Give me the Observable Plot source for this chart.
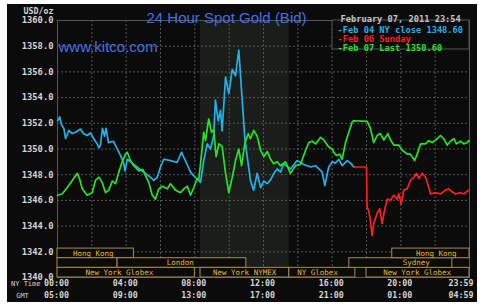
<!DOCTYPE html>
<html>
<head>
<meta charset="utf-8">
<script src="https://cdn.jsdelivr.net/npm/d3@7"></script>
<script src="https://cdn.jsdelivr.net/npm/@observablehq/plot@0.6"></script>
<style>
  html, body { margin: 0; padding: 0; background: #ffffff; }
  #chart { position: absolute; left: 7px; top: 4px; }
  #chart svg { display: block; }
</style>
</head>
<body>
<div id="chart"></div>
<script>
// ---- Data (hours since 00:00 NY time, USD/oz) ----
const blueHours = [0.00,0.13,0.23,0.37,0.47,0.66,0.86,1.05,1.34,1.51,1.73,1.92,2.11,2.31,2.41,2.50,2.62,2.74,2.83,2.97,3.26,3.48,3.67,3.86,3.93,4.06,4.35,4.64,4.83,5.03,5.32,5.61,5.81,6.00,6.19,6.58,6.97,7.22,7.50,7.75,7.94,8.23,8.33,8.52,8.72,8.91,9.10,9.20,9.36,9.50,9.59,9.79,9.98,10.18,10.37,10.56,10.76,10.91,11.05,11.24,11.43,11.63,11.83,12.02,12.22,12.41,12.60,12.80,12.99,13.18,13.57,13.96,14.35,14.74,15.03,15.42,15.57,15.80,16.00,16.19,16.39,16.58,16.88,17.07,17.26];
const blueValues = [1352.2,1352.5,1351.9,1351.6,1350.8,1351.45,1351.2,1351.3,1351.55,1351.2,1351.05,1351.25,1350.8,1350.4,1350.1,1350.3,1351.6,1351.0,1351.6,1350.5,1350.6,1350.0,1349.5,1348.85,1348.3,1349.2,1348.9,1348.6,1348.4,1348.2,1347.9,1347.55,1347.8,1348.6,1349.2,1349.1,1348.95,1349.75,1348.95,1348.2,1347.9,1347.55,1347.4,1349.1,1350.4,1350.0,1351.05,1353.8,1352.2,1353.0,1351.4,1355.6,1354.3,1356.2,1355.7,1357.7,1353.8,1350.9,1349.4,1347.55,1346.8,1348.1,1347.0,1347.5,1347.3,1347.6,1348.1,1348.45,1348.2,1348.85,1348.45,1349.1,1348.8,1348.6,1348.7,1348.2,1347.15,1348.6,1349.0,1348.9,1349.2,1348.7,1349.1,1348.9,1348.6];

const redHours = [17.26,18.00,18.03,18.13,18.23,18.33,18.42,18.62,18.77,18.91,19.05,19.21,19.40,19.59,19.79,19.88,20.02,20.17,20.37,20.56,20.76,20.91,21.05,21.24,21.44,21.63,21.73,22.02,22.31,22.60,22.79,22.99,23.18,23.48,23.67,23.96];
const redValues = [1348.6,1348.6,1345.5,1345.2,1344.4,1343.25,1344.2,1345.0,1345.35,1344.2,1345.2,1346.1,1346.0,1346.4,1346.1,1346.5,1345.7,1346.8,1346.9,1347.55,1347.8,1348.1,1347.7,1348.1,1347.8,1347.0,1346.5,1346.6,1346.5,1346.8,1346.9,1346.65,1346.5,1346.6,1346.5,1346.8];

const greenHours = [0.00,0.27,0.57,0.86,1.15,1.28,1.44,1.73,2.02,2.21,2.41,2.60,2.80,2.99,3.19,3.38,3.57,3.77,3.96,4.06,4.25,4.44,4.74,4.97,5.13,5.32,5.52,5.71,5.90,6.10,6.39,6.58,6.87,7.17,7.36,7.56,7.75,7.94,8.14,8.23,8.33,8.52,8.62,8.81,8.97,9.10,9.24,9.40,9.59,9.79,9.98,10.18,10.37,10.56,10.72,10.91,11.11,11.24,11.43,11.63,11.83,12.02,12.22,12.41,12.60,12.80,12.99,13.28,13.57,13.86,14.16,14.45,14.64,14.84,15.03,15.32,15.51,15.80,16.00,16.10,16.25,16.43,16.58,16.78,16.97,17.17,17.26,18.04,18.23,18.42,18.62,18.81,19.01,19.24,19.40,19.59,19.88,20.08,20.37,20.56,20.80,20.95,21.15,21.44,21.63,21.83,22.12,22.31,22.50,22.70,22.89,23.09,23.24,23.48,23.67,23.87,23.96];
const greenValues = [1346.4,1346.5,1347.0,1347.55,1348.1,1347.7,1346.9,1346.4,1346.6,1347.55,1347.8,1347.4,1346.6,1346.8,1347.5,1347.3,1348.2,1349.0,1349.6,1349.75,1349.1,1348.7,1348.3,1348.4,1347.9,1347.4,1346.4,1346.1,1346.9,1347.1,1346.9,1347.3,1346.8,1346.6,1346.9,1347.1,1346.4,1347.0,1347.7,1347.6,1348.85,1351.3,1350.65,1352.35,1351.3,1351.5,1349.4,1350.4,1350.2,1348.1,1346.6,1347.8,1349.1,1350.0,1348.7,1350.4,1351.2,1350.8,1351.45,1351.0,1349.9,1349.4,1349.8,1349.2,1348.85,1349.0,1348.7,1349.0,1348.1,1348.7,1348.8,1349.9,1350.5,1350.6,1350.4,1350.9,1350.7,1350.15,1350.0,1349.75,1349.5,1349.6,1349.2,1350.5,1351.3,1352.1,1352.2,1352.15,1351.6,1350.5,1351.05,1351.2,1350.7,1351.2,1350.7,1350.3,1350.3,1349.9,1349.6,1349.6,1349.1,1349.6,1350.4,1350.4,1350.65,1350.5,1350.8,1351.05,1350.8,1350.3,1350.6,1350.8,1350.4,1350.6,1350.4,1350.5,1350.65];

const seriesNames = ["Feb 04 NY close 1348.60", "Feb 06 Sunday", "Feb 07 Last 1350.60"];
const seriesColors = ["#1cb4ea", "#ff1e1e", "#22e622"];

// trading sessions (bottom bars)
const sessionNames = ["Hong Kong", "", "London", "New York Globex", "New York NYMEX", "NY Globex", "New York Globex", "Sydney", "Hong Kong"];
const sessionStart = [0, 0, 3.5, 0, 8.33, 13.5, 18.0, 17.0, 19.5];
const sessionEnd = [4.45, 3.5, 11.0, 8.0, 13.5, 17.35, 24, 23.0, 24];
const sessionRow = [2, 1, 1, 0, 0, 0, 0, 1, 2];
const sessionLabelAt = [2.08, null, 7.15, 3.6, 10.9, 15.15, 20.95, 20.9, 22.06];

// axes
const yTicks = [1340, 1342, 1344, 1346, 1348, 1350, 1352, 1354, 1356, 1358, 1360];
const xGrid = [0, 2, 4, 6, 8, 10, 12, 14, 16, 18, 20, 22, 24];
const tickHours = [0, 4, 8, 12, 16, 20, 24];
const nyLabels = ["00:00", "04:00", "08:00", "12:00", "16:00", "20:00", "23:59"];
const gmtLabels = ["05:00", "09:00", "13:00", "17:00", "21:00", "01:00", "04:59"];

const titleText = "24 Hour Spot Gold (Bid)";
const siteText = "www.kitco.com";
const dateText = "February 07, 2011 23:54";

// ---- build tables ----
const toRows = (hs, vs, s) => hs.map((h, i) => ({h, v: vs[i], s}));
const lines = [
  toRows(blueHours, blueValues, 0),
  toRows(redHours, redValues, 1),
  toRows(greenHours, greenValues, 2)
];
const sessions = sessionNames.map((name, i) => ({
  name, x1: sessionStart[i], x2: sessionEnd[i],
  y1: 1340 + sessionRow[i] * 0.75, y2: 1340 + (sessionRow[i] + 1) * 0.75,
  lx: sessionLabelAt[i]
}));
const nymex = sessions.find(d => d.name === "New York NYMEX");
const yMin = d3.min(yTicks), yMax = d3.max(yTicks);

const mono = "DejaVu Sans Mono";
const axisFill = "#d4d4d4";

// legend box as a pixel-placed function mark
function legendBox(index, scales, values, dim) {
  const g = d3.create("svg:g");
  const x2 = dim.width - dim.marginRight;
  g.append("rect")
    .attr("x", x2 - 137).attr("y", dim.marginTop)
    .attr("width", 137).attr("height", 29)
    .attr("fill", "#0b0b0b").attr("stroke", "#555").attr("stroke-width", 1);
  return g.node();
}

const legendMarks = seriesNames.map((name, i) =>
  Plot.text([name], {text: d => "-" + d, frameAnchor: "top-left", dx: 280, dy: 6 + 9 * i,
    textAnchor: "start", fill: seriesColors[i], fontSize: 8.7, fontWeight: "bold"}));

const chart = Plot.plot({
  width: 470,
  height: 298,
  marginLeft: 50,
  marginRight: 8,
  marginTop: 16,
  marginBottom: 25,
  style: {background: "#0b0b0b", color: axisFill, fontFamily: mono},
  x: {domain: [0, 24], axis: null},
  y: {domain: [yMin, yMax], axis: null},
  marks: [
    Plot.rect([nymex], {x1: "x1", x2: "x2", y1: yMin, y2: yMax, fill: "#1b1d1b"}),
    Plot.gridX(xGrid, {stroke: "#555", strokeOpacity: 1, strokeDasharray: "2,2"}),
    Plot.gridY(yTicks, {stroke: "#555", strokeOpacity: 1, strokeDasharray: "2,2"}),
    Plot.frame({stroke: "#555"}),
    ...lines.map(rows => Plot.line(rows, {x: "h", y: "v", stroke: seriesColors[rows[0].s], strokeWidth: 1.7, curve: "linear"})),
    Plot.rect(sessions, {x1: "x1", x2: "x2", y1: "y1", y2: "y2", fill: "#0b0b0b", stroke: "#a38c4c", strokeWidth: 1}),
    Plot.text(sessions.filter(d => d.name), {x: "lx", y: d => (d.y1 + d.y2) / 2, text: "name", fill: "#e9b82a", fontSize: 7.5, fontFamily: mono}),
    legendBox,
    ...legendMarks,
    // y axis labels
    Plot.axisY(yTicks, {tickSize: 0, tickPadding: 4, tickFormat: d => d.toFixed(1), fontSize: 8.8, fontWeight: "bold", fill: axisFill, label: null}),
    Plot.text(["USD/oz"], {frameAnchor: "top-left", dx: -4, dy: -12, textAnchor: "end", fontSize: 8.3, fontWeight: "bold", fill: axisFill}),
    // x labels
    Plot.text(nyLabels.slice(0, 6), {x: (d, i) => tickHours[i], text: d => d, frameAnchor: "bottom", dy: 8.5, dx: -1, fontSize: 8.3, fontWeight: "bold", fill: axisFill}),
    Plot.text(gmtLabels.slice(0, 6), {x: (d, i) => tickHours[i], text: d => d, frameAnchor: "bottom", dy: 20.7, dx: -1, fontSize: 8.3, fontWeight: "bold", fill: axisFill}),
    Plot.text(nyLabels.slice(6), {x: () => tickHours[6], text: d => d, frameAnchor: "bottom", dy: 8.5, dx: 4, textAnchor: "end", fontSize: 8.3, fontWeight: "bold", fill: axisFill}),
    Plot.text(gmtLabels.slice(6), {x: () => tickHours[6], text: d => d, frameAnchor: "bottom", dy: 20.7, dx: 4, textAnchor: "end", fontSize: 8.3, fontWeight: "bold", fill: axisFill}),
    Plot.text(["NY Time"], {frameAnchor: "bottom-left", dx: -17, dy: 8.5, textAnchor: "end", fontSize: 7, fill: axisFill}),
    Plot.text(["GMT"], {frameAnchor: "bottom-left", dx: -35, dy: 20.7, textAnchor: "middle", fontSize: 7, fill: axisFill}),
    // titles
    Plot.text([titleText], {frameAnchor: "top-left", dx: 169, dy: -8, textAnchor: "middle", fontSize: 15, fontFamily: "Liberation Sans", fill: "#4270e0"}),
    Plot.text([siteText], {frameAnchor: "top-left", dx: 1, dy: 20.5, textAnchor: "start", fontSize: 15, fontFamily: "Liberation Sans", fill: "#4270e0"}),
    Plot.text([dateText], {frameAnchor: "top-left", dx: 283, dy: -5, textAnchor: "start", fontSize: 8.7, fontWeight: "bold", fill: "#c4c4c4"})
  ]
});

document.getElementById("chart").append(chart);
</script>
</body>
</html>
